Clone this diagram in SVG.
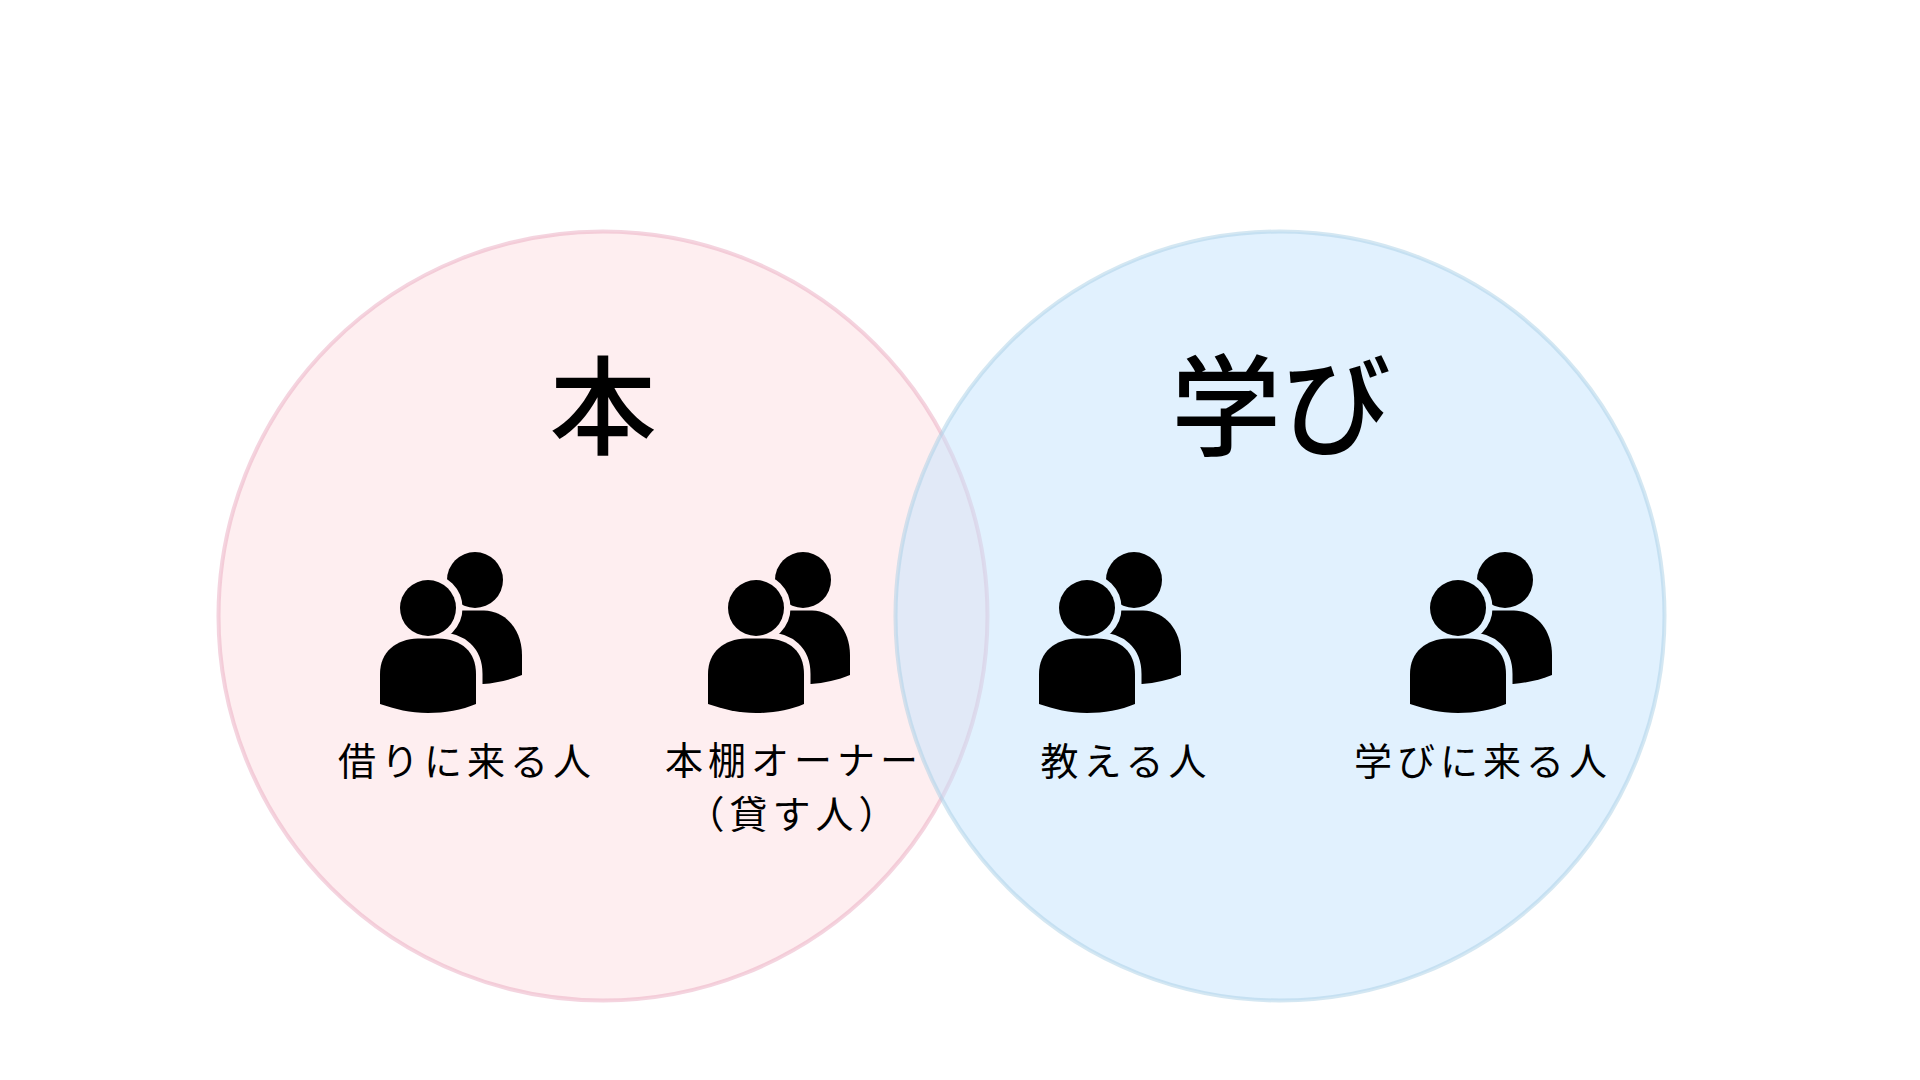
<svg xmlns="http://www.w3.org/2000/svg" xmlns:xlink="http://www.w3.org/1999/xlink" width="1920" height="1080" viewBox="0 0 1920 1080">
<style>
text{font-family:"Noto Sans CJK JP","Noto Sans",sans-serif;fill:#000;text-anchor:middle}
.t{font-size:107px;font-weight:500}
.w{font-size:110px;font-weight:500}
.l{font-size:38px;letter-spacing:5px;font-weight:400}
</style>
<defs>
<g id="front">
<circle cx="428" cy="608" r="28"/>
<path d="M380 674C380 652 396 639 418 638.500H438C462 639 476 652 476 674V704C462 710 445 713 428 713C410 713 395 709 380 704Z"/>
</g>
<mask id="cut" maskUnits="userSpaceOnUse" x="360" y="540" width="180" height="190">
<rect x="360" y="540" width="180" height="190" fill="#fff"/>
<use xlink:href="#front" href="#front" fill="#000" stroke="#000" stroke-width="13"/>
</mask>
<g id="people">
<g mask="url(#cut)">
<circle cx="475" cy="580" r="28"/>
<path d="M440 610.500H484C506 611 522 630 522 655V675C510 680 496 683 483 684H440Z"/>
</g>
<use xlink:href="#front" href="#front"/>
</g>
</defs>
<rect width="1920" height="1080" fill="#fff"/>
<g id="circle-hon"><circle cx="603" cy="616" r="384.500" fill="#fedde2" fill-opacity=".5" stroke="#e9a9bf" stroke-opacity=".5" stroke-width="4"/></g>
<g id="circle-manabi"><circle cx="1280" cy="616" r="384.500" fill="#c3e3fd" fill-opacity=".5" stroke="#a9cfe6" stroke-opacity=".5" stroke-width="4"/></g>
<g id="title-hon"><text class="t" x="603" y="446">本</text></g>
<g id="title-manabi"><text class="w" x="1281" y="447">学び</text></g>
<g id="node-borrow"><use xlink:href="#people" href="#people"/><text class="l" x="467" y="775">借りに来る人</text></g>
<g id="node-owner"><use xlink:href="#people" href="#people" x="328"/><text class="l" x="794" y="774">本棚オーナー</text><text class="l" x="794" y="828">（貸す人）</text></g>
<g id="node-teach"><use xlink:href="#people" href="#people" x="659"/><text class="l" x="1126" y="775">教える人</text></g>
<g id="node-learn"><use xlink:href="#people" href="#people" x="1030"/><text class="l" x="1483" y="775">学びに来る人</text></g>
<g id="connectors"/>
</svg>
